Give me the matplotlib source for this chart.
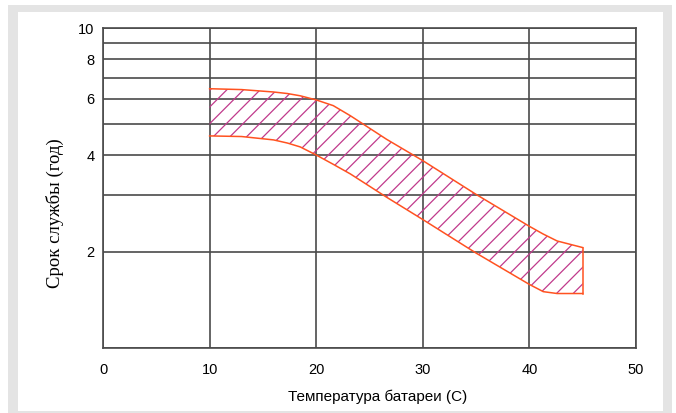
import matplotlib.pyplot as plt
from matplotlib.patches import Rectangle
from matplotlib.ticker import NullFormatter

# temperature (C) and service life bounds (years)
temp = [10, 13, 16, 17.3, 18.5, 20, 21.6, 23.2, 26.6, 30, 35, 40, 41.3, 42.6, 45]
life_hi = [6.46, 6.42, 6.31, 6.24, 6.14, 5.96, 5.72, 5.32, 4.49, 3.85, 3.02, 2.40, 2.27, 2.16, 2.06]
life_lo = [4.60, 4.58, 4.47, 4.37, 4.25, 4.01, 3.75, 3.50, 2.96, 2.52, 1.98, 1.58, 1.50, 1.48, 1.48]

xticks = [0, 10, 20, 30, 40, 50]
yticks = [2, 4, 6, 8, 10]
yminor = [1, 3, 5, 7, 9]

fig = plt.figure(figsize=(6.76, 4.13), dpi=100)
W, H = 676, 413
# grey screenshot frame
fig.patches.append(Rectangle((8/W, 0), 664/W, 1-5/H, transform=fig.transFigure,
                             facecolor='#e4e4e4', edgecolor='none', zorder=-2))
fig.patches.append(Rectangle((18/W, 2/H), 645/W, 1-14/H, transform=fig.transFigure,
                             facecolor='white', edgecolor='none', zorder=-1))

ax = fig.add_axes([103/W, 1-348/H, 533/W, 320/H])
ax.set_yscale('log')
ax.set_xlim(0, 50)
ax.set_ylim(1, 10)

plt.rcParams['hatch.linewidth'] = 0.9
ax.fill_between(temp, life_lo, life_hi, facecolor='none', edgecolor='#c03a8c',
                hatch='//', linewidth=0, zorder=3)
edge = '#ff5220'
ax.plot(temp, life_hi, color=edge, lw=1.1, zorder=4)
ax.plot(temp, life_lo, color=edge, lw=1.1, zorder=4)
ax.plot([temp[-1], temp[-1]], [life_lo[-1], life_hi[-1]], color=edge, lw=1.1, zorder=4)

ax.set_xticks(xticks)
ax.set_yticks(yticks)
ax.set_yticklabels([str(v) for v in yticks])
ax.set_yticks(yminor, minor=True)
ax.yaxis.set_minor_formatter(NullFormatter())
ax.grid(True, which='both', color='#4a4a4a', lw=1.2)
ax.set_axisbelow(True)
for s in ax.spines.values():
    s.set_color('#4a4a4a')
    s.set_linewidth(1.2)
ax.tick_params(axis='both', which='both', length=0, labelsize=10.5,
               labelfontfamily='Liberation Sans')
ax.tick_params(axis='x', pad=11)
ax.tick_params(axis='y', pad=6)

ax.set_xlabel('Температура батареи (С)', fontsize=11, family='Liberation Sans')
ax.set_ylabel('Срок службы (год)', fontsize=13.5, family='Liberation Serif')
ax.xaxis.set_label_coords(0.515, -0.13)
ax.yaxis.set_label_coords(-0.073, 0.42)

plt.savefig('out.png', dpi=100)
